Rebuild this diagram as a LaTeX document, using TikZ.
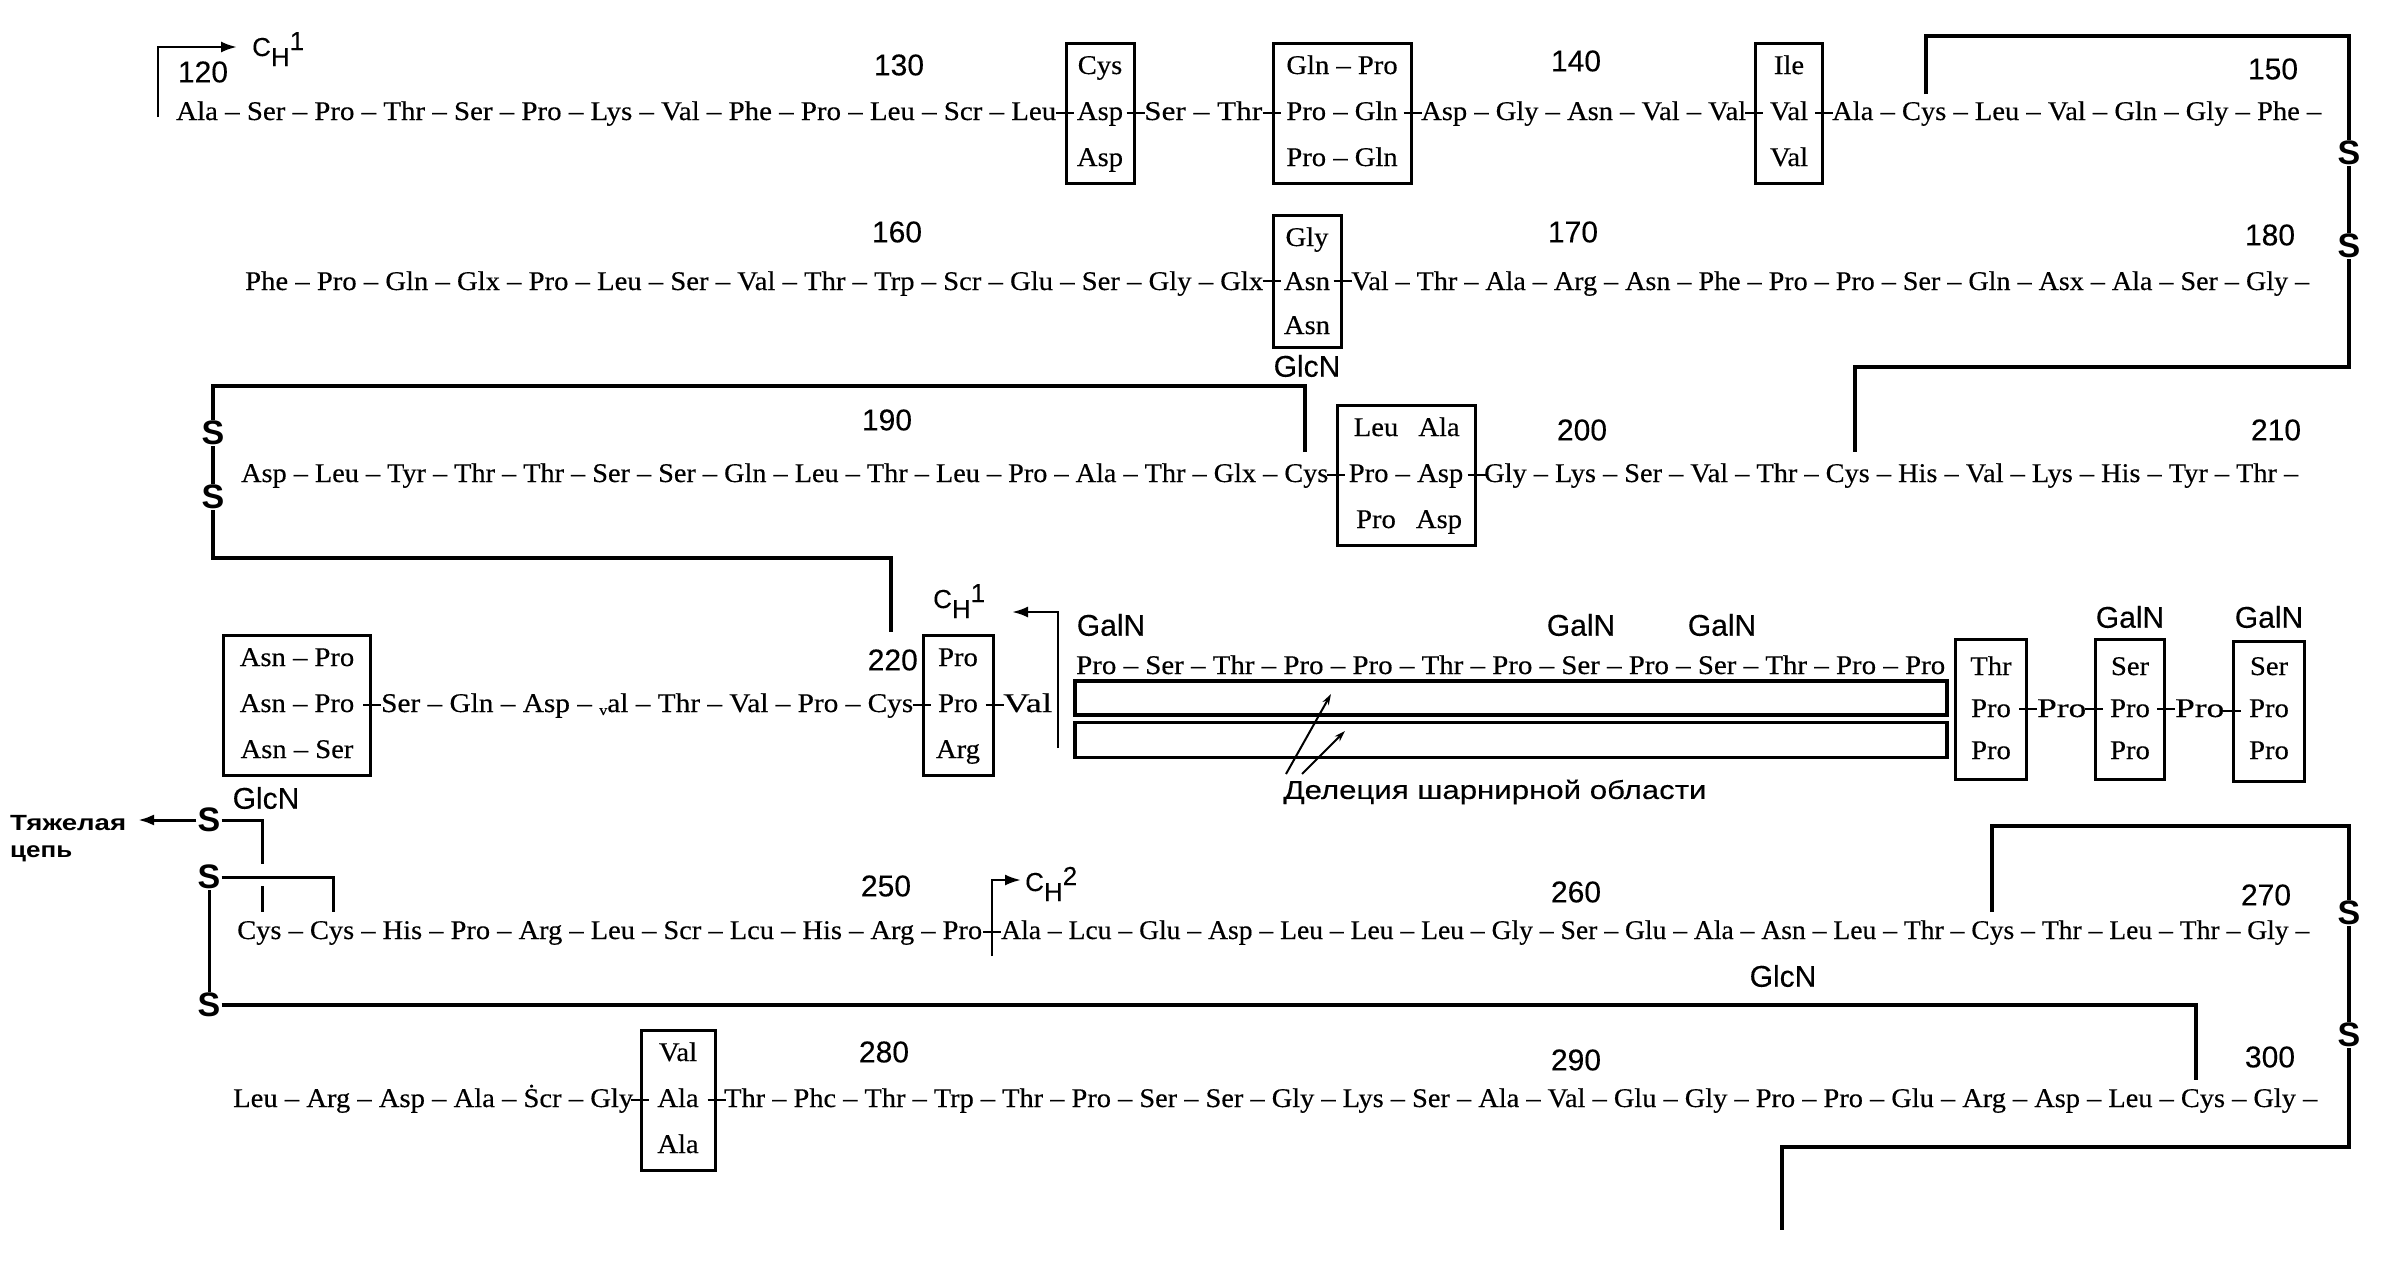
\documentclass[tikz,border=0pt]{standalone}
\usepackage{fontspec}
\setmainfont{Liberation Serif}
\setsansfont{Liberation Sans}
\newfontfamily\seqrm{Liberation Serif}[FakeBold=0.35]
\newfontfamily\seqsf{Liberation Sans}[FakeBold=0.25]
\usetikzlibrary{arrows.meta}
\newcommand\sqf{\seqrm\fontsize{27}{30}\selectfont}
\newcommand\nmf{\seqsf\fontsize{30}{32}\selectfont}
\newcommand\Sfnt{\sffamily\bfseries\fontsize{34}{36}\selectfont}
\newcommand\chf{\seqsf\fontsize{26}{28}\selectfont}
\newcommand\bt[1]{\scalebox{1.06}[1]{#1}}
\newcommand\vmk{\raisebox{-3pt}{\scalebox{0.55}{v}}}
\newcommand\CHl[1]{C\raisebox{-10pt}{H}\raisebox{6pt}{#1}}
\newcommand\sqseg[5]{\node[seq] (#1) at (#2,#3) {\resizebox{#4pt}{\height}{#5}};}
\newcommand\cells[7]{%
 \node[cell] (#1t) at (#2,#3-#4+9) {\bt{#5}};
 \node[cell] (#1m) at (#2,#3+9) {\bt{#6}};
 \node[cell] (#1b) at (#2,#3+#4+9) {\bt{#7}};}
\newcommand\crs[1]{\draw[cross] ([xshift=-9pt]#1) -- ([xshift=9pt]#1);}
\begin{document}
\begin{tikzpicture}[x=1pt,y=-1pt,
 seq/.style={anchor=base west, inner sep=0pt, font=\sqf},
 cell/.style={anchor=base, inner sep=0pt, font=\sqf},
 num/.style={inner sep=0pt, font=\nmf},
 ssn/.style={inner sep=1pt, font=\Sfnt},
 bx/.style={draw, line width=3pt, inner sep=0pt},
 br/.style={line width=4pt},
 thinbr/.style={line width=3pt},
 cross/.style={line width=2pt},
 mk/.style={line width=2.5pt},
 arr/.style={-{Latex[length=16pt,width=11pt]}},
 darr/.style={line width=2pt,-{Stealth[length=11pt,width=7pt]}},
 hrect/.style={draw, line width=3.5pt, inner sep=0pt, minimum width=872pt}]
\fill[white] (0,0) rectangle (2391,1264);
\useasboundingbox (0,0) rectangle (2391,1264);

% ---------------- Row 1 ----------------
\sqseg{r1a}{176}{120}{880}{Ala – Ser – Pro – Thr – Ser – Pro – Lys – Val – Phe – Pro – Leu – Scr – Leu}
\node[bx, minimum width=68pt, minimum height=140pt] (b1) at (1100,113) {};
\cells{c1}{1100}{111}{46}{Cys}{Asp}{Asp}
\sqseg{r1b}{1144}{120}{118}{Ser – Thr}
\node[bx, minimum width=138pt, minimum height=140pt] (b2) at (1342,113) {};
\cells{c2}{1342}{111}{46}{Gln – Pro}{Pro – Gln}{Pro – Gln}
\sqseg{r1c}{1421}{120}{325}{Asp – Gly – Asn – Val – Val}
\node[bx, minimum width=67pt, minimum height=140pt] (b3) at (1789,113) {};
\cells{c3}{1789}{111}{46}{Ile}{Val}{Val}
\sqseg{r1d}{1832}{120}{489}{Ala – Cys – Leu – Val – Gln – Gly – Phe –}
\crs{b1.west}\crs{b1.east}\crs{b2.west}\crs{b2.east}\crs{b3.west}\crs{b3.east}
\node[num] (n120) at (203,72) {120};
\node[num] (n130) at (899,65) {130};
\node[num] (n140) at (1576,61) {140};
\node[num] (n150) at (2273,69) {150};
\node[anchor=base west, inner sep=0pt, font=\chf] (ch1a) at (252,56) {\CHl{1}};
\draw[mk,arr] (158,117) -- (158,47) -- (237,47);

% ---------------- Row 2 ----------------
\sqseg{r2a}{245}{290}{1018}{Phe – Pro – Gln – Glx – Pro – Leu – Ser – Val – Thr – Trp – Scr – Glu – Ser – Gly – Glx}
\node[bx, minimum width=68pt, minimum height=132pt] (b4) at (1307,281) {};
\cells{c4}{1307}{281}{44}{Gly}{Asn}{Asn}
\sqseg{r2b}{1351}{290}{958}{Val – Thr – Ala – Arg – Asn – Phe – Pro – Pro – Ser – Gln – Asx – Ala – Ser – Gly –}
\crs{b4.west}\crs{b4.east}
\node[num] (g1) at (1307,366) {GlcN};
\node[num] (n160) at (897,232) {160};
\node[num] (n170) at (1573,232) {170};
\node[num] (n180) at (2270,235) {180};

% ---------------- Row 3 ----------------
\sqseg{r3a}{241}{482}{1087}{Asp – Leu – Tyr – Thr – Thr – Ser – Ser – Gln – Leu – Thr – Leu – Pro – Ala – Thr – Glx – Cys}
\node[bx, minimum width=138pt, minimum height=140pt] (b5) at (1406,475) {};
\node[cell] (c5a) at (1376,436) {\bt{Leu}};
\node[cell] (c5b) at (1439,436) {\bt{Ala}};
\node[cell] (c5c) at (1406,482) {\bt{Pro – Asp}};
\node[cell] (c5d) at (1376,528) {\bt{Pro}};
\node[cell] (c5e) at (1439,528) {\bt{Asp}};
\sqseg{r3b}{1484}{482}{814}{Gly – Lys – Ser – Val – Thr – Cys – His – Val – Lys – His – Tyr – Thr –}
\crs{b5.west}\crs{b5.east}
\node[num] (n190) at (887,420) {190};
\node[num] (n200) at (1582,430) {200};
\node[num] (n210) at (2276,430) {210};

% ---------------- Row 4 ----------------
\node[bx, minimum width=147pt, minimum height=140pt] (b6) at (297,705) {};
\cells{c6}{297}{703}{46}{Asn – Pro}{Asn – Pro}{Asn – Ser}
\node[num] (g2) at (266,798) {GlcN};
\sqseg{r4a}{381}{712}{532}{Ser – Gln – Asp – \vmk al – Thr – Val – Pro – Cys}
\node[bx, minimum width=70pt, minimum height=140pt] (b7) at (958,705) {};
\cells{c7}{958}{703}{46}{Pro}{Pro}{Arg}
\node[num, anchor=east] (n220) at (918,660) {220};
\sqseg{r4b}{1003}{712}{49}{Val}
\crs{b6.east}\crs{b7.west}\crs{b7.east}
\node[anchor=base west, inner sep=0pt, font=\chf] (ch1b) at (933,608) {\CHl{1}};
\draw[mk,arr] (1058,748) -- (1058,612) -- (1012,612);
\node[num] (ga1) at (1111,625) {GalN};
\sqseg{hg}{1076}{674}{869}{Pro – Ser – Thr – Pro – Pro – Thr – Pro – Ser – Pro – Ser – Thr – Pro – Pro}
\node[num] (ga2) at (1581,625) {GalN};
\node[num] (ga3) at (1722,625) {GalN};
\node[hrect, minimum height=34pt] (hr1) at (1511,698) {};
\node[hrect, minimum height=35pt] (hr2) at (1511,740) {};
\node[inner sep=0pt, font=\seqsf\fontsize{26}{28}\selectfont] (del) at (1495,792) {\resizebox{423pt}{\height}{Делеция шарнирной области}};
\draw[darr] (1286,774) -- (1331,694);
\draw[darr] (1302,774) -- (1345,731);
\node[bx, minimum width=71pt, minimum height=140pt] (b8) at (1991,709) {};
\cells{c8}{1991}{708}{42}{Thr}{Pro}{Pro}
\sqseg{p1}{2037}{717}{49}{Pro}
\node[bx, minimum width=69pt, minimum height=140pt] (b9) at (2130,709) {};
\cells{c9}{2130}{708}{42}{Ser}{Pro}{Pro}
\sqseg{p2}{2175}{717}{49}{Pro}
\node[bx, minimum width=71pt, minimum height=140pt] (b10) at (2269,711) {};
\cells{c10}{2269}{708}{42}{Ser}{Pro}{Pro}
\crs{b8.east}\crs{b9.west}\crs{b9.east}\crs{b10.west}
\node[num] (ga4) at (2130,617) {GalN};
\node[num] (ga5) at (2269,617) {GalN};

% ---------------- Row 5 ----------------
\sqseg{r5a}{237}{939}{745}{Cys – Cys – His – Pro – Arg – Leu – Scr – Lcu – His – Arg – Pro}
\coordinate (m2) at (992,932);
\draw[mk,arr] (992,956) -- (992,880) -- (1021,880);
\crs{m2}
\node[anchor=base west, inner sep=0pt, font=\chf] (ch2) at (1025,891) {\CHl{2}};
\sqseg{r5b}{1001}{939}{1308}{Ala – Lcu – Glu – Asp – Leu – Leu – Leu – Gly – Ser – Glu – Ala – Asn – Leu – Thr – Cys – Thr – Leu – Thr – Gly –}
\node[num] (g3) at (1783,976) {GlcN};
\node[num] (n250) at (886,886) {250};
\node[num] (n260) at (1576,892) {260};
\node[num] (n270) at (2266,895) {270};

% ---------------- Row 6 ----------------
\sqseg{r6a}{233}{1107}{400}{Leu – Arg – Asp – Ala – \.Scr – Gly}
\node[bx, minimum width=74pt, minimum height=140pt] (b11) at (678,1100) {};
\cells{c11}{678}{1098}{46}{Val}{Ala}{Ala}
\sqseg{r6b}{724}{1107}{1593}{Thr – Phc – Thr – Trp – Thr – Pro – Ser – Ser – Gly – Lys – Ser – Ala – Val – Glu – Gly – Pro – Pro – Glu – Arg – Asp – Leu – Cys – Gly –}
\crs{b11.west}\crs{b11.east}
\node[num] (n280) at (884,1052) {280};
\node[num] (n290) at (1576,1060) {290};
\node[num] (n300) at (2270,1057) {300};

% ---------------- disulfide bridges ----------------
\node[ssn] (sA) at (2349,153) {S};
\node[ssn] (sB) at (2349,246) {S};
\node[ssn] (sC) at (213,433) {S};
\node[ssn] (sD) at (213,497) {S};
\node[ssn] (sE) at (209,820) {S};
\node[ssn] (sF) at (209,877) {S};
\node[ssn] (sG) at (209,1005) {S};
\node[ssn] (sH) at (2349,913) {S};
\node[ssn] (sI) at (2349,1035) {S};

\draw[br] (1926,94) -- (1926,36) -| (sA.north);
\draw[br] (sA.south) -- (sB.north);
\draw[br] (sB.south) -- (2349,367) -| (1855,452);
\draw[br] (1305,452) -- (1305,386) -| (sC.north);
\draw[br] (sC.south) -- (sD.north);
\draw[br] (sD.south) -- (213,558) -| (891,632);

\node[anchor=base west, inner sep=0pt, font=\sffamily\bfseries\fontsize{22}{24}\selectfont] (hc1) at (10,830) {\resizebox{116pt}{\height}{Тяжелая}};
\node[anchor=base west, inner sep=0pt, font=\sffamily\bfseries\fontsize{22}{24}\selectfont] (hc2) at (10,857) {\resizebox{62pt}{\height}{цепь}};
\draw[thinbr,arr] (sE.west) -- (138,820);
\draw[thinbr] (sE.east) -| (262,864);
\draw[thinbr] (262,886) -- (262,912);
\draw[thinbr] (sF.east) -| (333,912);
\draw[thinbr] (sF.south) -- (sG.north);
\draw[br] (sG.east) -| (2196,1080);

\draw[br] (1992,912) -- (1992,826) -| (sH.north);
\draw[br] (sH.south) -- (sI.north);
\draw[br] (sI.south) -- (2349,1147) -| (1782,1230);
\end{tikzpicture}
\end{document}
